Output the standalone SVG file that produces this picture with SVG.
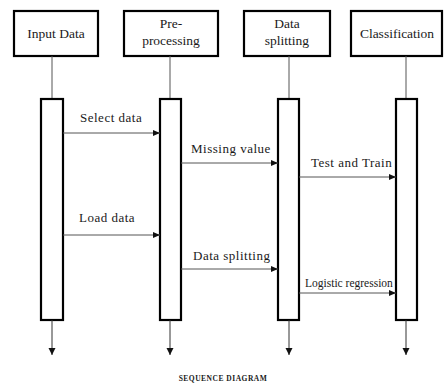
<svg xmlns="http://www.w3.org/2000/svg" width="446" height="385" viewBox="0 0 446 385">
  <style>
    .head { fill: #fff; stroke: #000; stroke-width: 2.2; }
    .act { fill: #fff; stroke: #000; stroke-width: 2.2; }
    .life { stroke: #555; stroke-width: 1; fill: none; }
    .msg { stroke: #555; stroke-width: 1; fill: none; marker-end: url(#ah); }
    .end { stroke: #333; stroke-width: 1; fill: none; marker-end: url(#ahd); }
    .hl { font-size: 13.5px; text-anchor: middle; }
    .ml { font-size: 13px; letter-spacing: 0.5px; }
    .sm { font-size: 11.5px; }
    .title { font-size: 7.5px; font-weight: bold; letter-spacing: 0.5px; text-anchor: middle; }
  </style>
  <defs>
    <marker id="ah" markerWidth="8" markerHeight="6" refX="7" refY="3" orient="auto" markerUnits="userSpaceOnUse">
      <path d="M0,0 L7,3 L0,6 Z" fill="#111"/>
    </marker>
    <marker id="ahd" markerWidth="8" markerHeight="8" refX="7" refY="3.5" orient="auto" markerUnits="userSpaceOnUse">
      <path d="M0,0 L7,3.5 L0,7 Z" fill="#111"/>
    </marker>
  </defs>

  <g font-family="'Liberation Serif', 'DejaVu Serif', serif" fill="#1a1a1a">
    <!-- participants -->
    <g id="input-data">
      <rect class="head" x="14" y="11" width="84" height="45"/>
      <text class="hl" x="56" y="38">Input Data</text>
      <line class="life" x1="52" y1="56" x2="52" y2="99"/>
      <rect class="act" x="41" y="99" width="22" height="221"/>
    </g>
    <g id="pre-processing">
      <rect class="head" x="124" y="11" width="94" height="45"/>
      <text class="hl" x="171" y="28">Pre-</text>
      <text class="hl" x="171" y="45">processing</text>
      <line class="life" x1="170" y1="56" x2="170" y2="99"/>
      <rect class="act" x="160" y="99" width="21" height="221"/>
    </g>
    <g id="data-splitting">
      <rect class="head" x="244" y="11" width="86" height="45"/>
      <text class="hl" x="287" y="28">Data</text>
      <text class="hl" x="287" y="45">splitting</text>
      <line class="life" x1="289" y1="56" x2="289" y2="99"/>
      <rect class="act" x="278" y="99" width="21" height="221"/>
    </g>
    <g id="classification">
      <rect class="head" x="351" y="11" width="91" height="45"/>
      <text class="hl" x="397" y="38">Classification</text>
      <line class="life" x1="406" y1="56" x2="406" y2="99"/>
      <rect class="act" x="396" y="99" width="21" height="221"/>
    </g>

    <!-- messages and lifeline ends -->
    <g id="connectors">
      <line class="msg" x1="63" y1="133" x2="160" y2="133"/>
      <line class="msg" x1="181" y1="163" x2="278" y2="163"/>
      <line class="msg" x1="299" y1="177" x2="396" y2="177"/>
      <line class="msg" x1="63" y1="235" x2="160" y2="235"/>
      <line class="msg" x1="181" y1="269" x2="278" y2="269"/>
      <line class="msg" x1="299" y1="293" x2="396" y2="293"/>
      <line class="end" x1="52" y1="320" x2="52" y2="355"/>
      <line class="end" x1="170" y1="320" x2="170" y2="355"/>
      <line class="end" x1="289" y1="320" x2="289" y2="355"/>
      <line class="end" x1="406" y1="320" x2="406" y2="355"/>
    </g>

    <g id="labels">
      <text class="ml" x="80" y="122">Select data</text>
      <text class="ml" x="191" y="153">Missing value</text>
      <text class="ml" x="311" y="167">Test and Train</text>
      <text class="ml" x="79" y="222">Load data</text>
      <text class="ml" x="193" y="260">Data splitting</text>
      <text class="sm" x="305" y="287">Logistic regression</text>
    </g>

    <text class="title" x="223" y="381">SEQUENCE DIAGRAM</text>
  </g>
</svg>
